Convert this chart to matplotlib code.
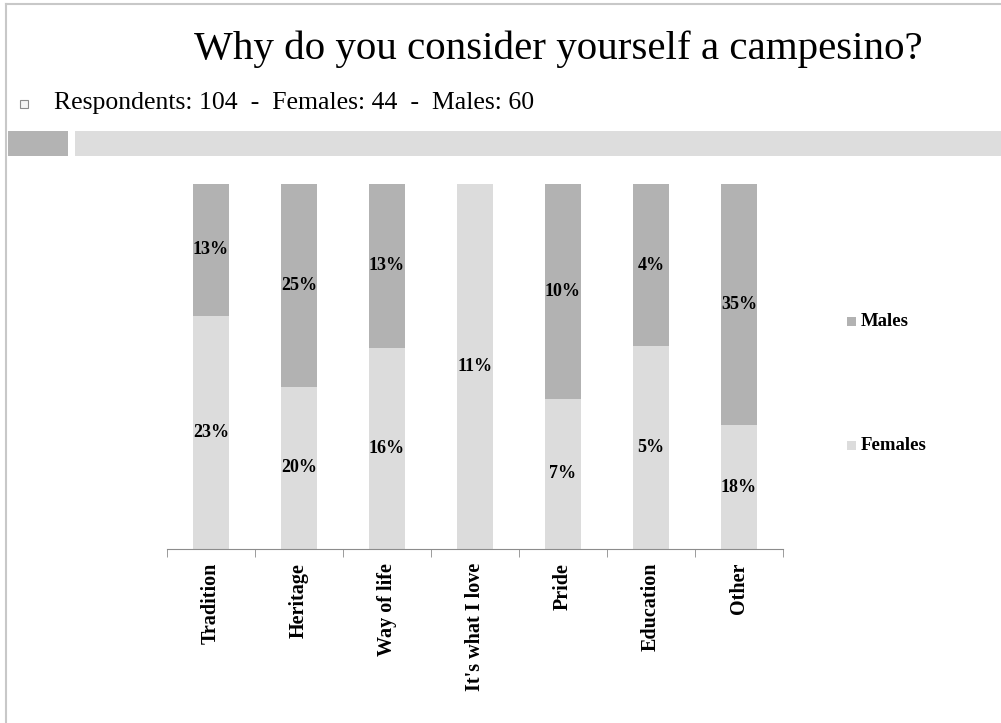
import matplotlib

matplotlib.use("Agg")
import matplotlib.pyplot as plt
import numpy as np
from matplotlib.patches import Rectangle
from matplotlib.ticker import FixedLocator

# survey answers, share of all respondents (%)
categories = ["Tradition", "Heritage", "Way of life", "It's what I love",
              "Pride", "Education", "Other"]
females = [23, 20, 16, 11, 7, 5, 18]
males = [13, 25, 13, 0, 10, 4, 35]

MALE_COL = "#b2b2b2"
FEMALE_COL = "#dcdcdc"
SERIF = ["Liberation Serif", "DejaVu Serif"]

W, H = 1001, 723
fig = plt.figure(figsize=(W / 100, H / 100), dpi=100)
fig.patch.set_facecolor("white")


def px(x, y):
    """pixel coords (top-left origin) -> figure fraction"""
    return x / W, 1 - y / H


# slide frame, header text and banner
fig.add_artist(plt.Line2D([6 / W, 1], [1 - 4 / H] * 2, color="#c8c8c8", lw=1.5))
fig.add_artist(plt.Line2D([6 / W] * 2, [0, 1 - 4 / H], color="#c8c8c8", lw=1.5))
fig.text(*px(558, 49), "Why do you consider yourself a campesino?", ha="center", va="center",
         fontsize=29.5, family=SERIF, color="black")
fig.text(*px(54, 103), "Respondents: 104  -  Females: 44  -  Males: 60", ha="left", va="center",
         fontsize=18.5, family=SERIF, color="black")
bx, by = px(20, 108)
fig.add_artist(Rectangle((bx, by), 8 / W, 8 / H, transform=fig.transFigure,
                         facecolor="#f4f4f4", edgecolor="#8a8a8a", lw=0.8))
x0, y0 = px(8, 156)
fig.add_artist(Rectangle((x0, y0), 60 / W, 25 / H, transform=fig.transFigure,
                         facecolor="#b3b3b3", edgecolor="none"))
x0, y0 = px(75, 156)
fig.add_artist(Rectangle((x0, y0), 1 - x0, 25 / H, transform=fig.transFigure,
                         facecolor="#dddddd", edgecolor="none"))

# 100% stacked columns
left, top = px(167, 184)
right, bottom = px(783, 549)
ax = fig.add_axes([left, bottom, right - left, top - bottom])

f = np.array(females, dtype=float)
m = np.array(males, dtype=float)
tot = f + m
f_share = f / tot
m_share = m / tot
x = np.arange(len(categories))

ax.bar(x, f_share, width=0.4, color=FEMALE_COL, label="Females")
ax.bar(x, m_share, width=0.4, bottom=f_share, color=MALE_COL, label="Males")

for i in range(len(categories)):
    ax.text(x[i], f_share[i] / 2, f"{females[i]}%", ha="center", va="center",
            fontsize=13, fontweight="bold", family=SERIF)
    if males[i] > 0:
        ax.text(x[i], f_share[i] + m_share[i] / 2, f"{males[i]}%", ha="center", va="center",
                fontsize=13, fontweight="bold", family=SERIF)

ax.set_xlim(-0.5, len(categories) - 0.5)
ax.set_ylim(0, 1)
for side in ("top", "right", "left"):
    ax.spines[side].set_visible(False)
ax.spines["bottom"].set_color("#8c8c8c")
ax.set_yticks([])
ax.set_xticks(x)
ax.set_xticklabels(categories, rotation=90, fontsize=14.5, fontweight="bold", family=SERIF, va="top")
ax.tick_params(axis="x", which="major", length=0, pad=10)
ax.xaxis.set_minor_locator(FixedLocator(np.arange(-0.5, len(categories), 1.0)))
ax.tick_params(axis="x", which="minor", length=6, color="#8c8c8c", direction="out")

# legend, drawn by hand to keep the wide spacing between entries
for name, col, yy in (("Males", MALE_COL, 321), ("Females", FEMALE_COL, 445)):
    lx, ly = px(847, yy + 5)
    fig.add_artist(Rectangle((lx, ly), 9 / W, 9 / H, transform=fig.transFigure,
                             facecolor=col, edgecolor="none"))
    fig.text(*px(861, yy), name, ha="left", va="center", fontsize=13.5,
             fontweight="bold", family=SERIF)

fig.savefig("out.png", dpi=100)
